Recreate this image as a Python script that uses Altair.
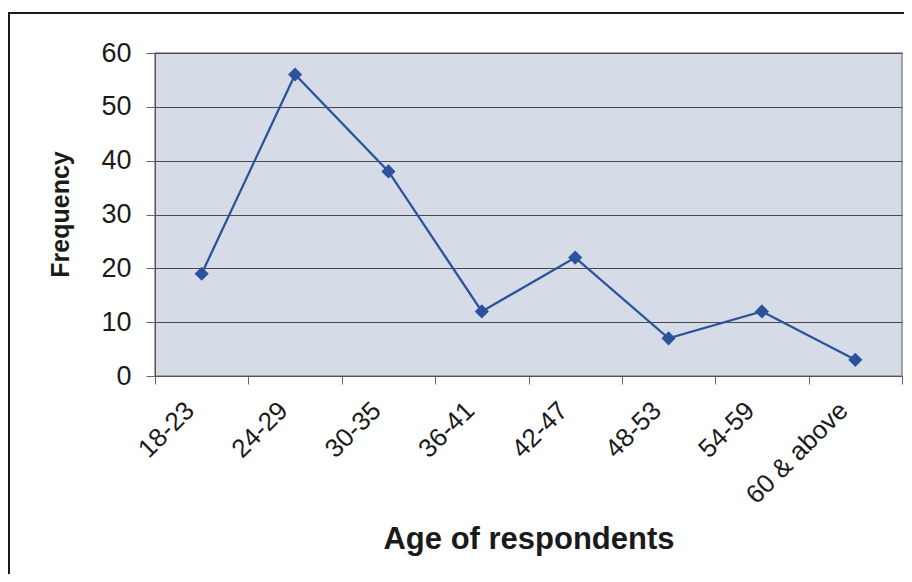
import altair as alt
import pandas as pd

ages = ["18-23", "24-29", "30-35", "36-41", "42-47", "48-53", "54-59", "60 & above"]
freq = [19, 56, 38, 12, 22, 7, 12, 3]

df = pd.DataFrame({"age": ages, "freq": freq})
frame_df = pd.DataFrame({"k": [0]})

FONT = "Liberation Sans"
W, H = 747, 323

base = alt.Chart(df)

line = base.mark_line(color="#2d529c", strokeWidth=2.3).encode(
    x=alt.X("age:N", sort=ages,
            scale=alt.Scale(paddingInner=0, paddingOuter=0),
            axis=alt.Axis(title="Age of respondents", labelAngle=-45,
                          labelAlign="right", labelBaseline="middle",
                          labelFontSize=26, labelFont=FONT, labelColor="#1a1a1a",
                          labelPadding=22, labelOffset=-12,
                          tickBand="extent", tickSize=8, tickColor="#666666",
                          domainColor="#555555", grid=False,
                          titleFont=FONT, titleFontSize=31, titleFontWeight="bold",
                          titleColor="#1a1a1a", titleBaseline="alphabetic",
                          titleY=172)),
    y=alt.Y("freq:Q", scale=alt.Scale(domain=[0, 60], nice=False),
            axis=alt.Axis(title="Frequency", values=[0, 10, 20, 30, 40, 50, 60],
                          labelFontSize=27, labelFont=FONT, labelColor="#1a1a1a",
                          labelPadding=15, tickSize=9, tickColor="#666666",
                          domainColor="#555555", gridColor="#4a4a4a", gridWidth=1,
                          titleFont=FONT, titleFontSize=25, titleFontWeight="bold",
                          titleColor="#1a1a1a", titleAngle=-90, titleX=-95,
                          titleY=161, titleAlign="center", titleBaseline="middle")),
)

points = base.mark_point(shape="diamond", filled=True, size=200,
                         color="#2d529c", opacity=1).encode(
    x=alt.X("age:N", sort=ages),
    y=alt.Y("freq:Q"),
)

frame_top = alt.Chart(frame_df).mark_rule(color="#1a1a1a", strokeWidth=2).encode(
    x=alt.value(-146), x2=alt.value(760), y=alt.value(-40))
frame_left = alt.Chart(frame_df).mark_rule(color="#1a1a1a", strokeWidth=2).encode(
    x=alt.value(-146), y=alt.value(-41), y2=alt.value(540))

chart = alt.layer(line, points, frame_top, frame_left).properties(
    width=W, height=H,
    autosize=alt.AutoSizeParams(type="none"),
    padding={"left": 147, "top": 45, "right": 2, "bottom": 198},
    background="white",
).configure_view(
    fill="#d5dce8", stroke="#8c8c8c", strokeWidth=1.5
)

chart.save("out.html", embed_options={"renderer": "svg", "actions": False})
